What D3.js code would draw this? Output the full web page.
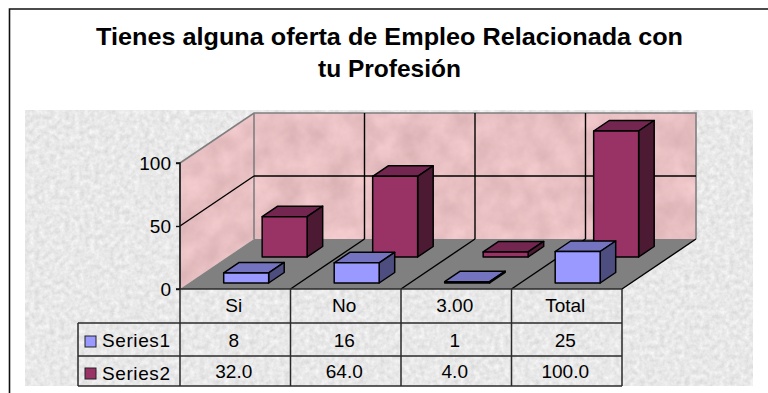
<!DOCTYPE html>
<html><head><meta charset="utf-8">
<script src="https://cdn.jsdelivr.net/npm/d3@7"></script>
<style>html,body{margin:0;padding:0;background:#fff}svg{display:block}text{font-family:"Liberation Sans",Arial,sans-serif;fill:#000}</style>
</head><body><div id="c"></div>
<script>
const titleLines=["Tienes alguna oferta de Empleo Relacionada con","tu Profesión"];
const titleWidths=[587,143];
const categories=["Si","No","3.00","Total"];
const seriesNames=["Series1","Series2"];
const series1=[8,16,1,25];
const series2=[32,64,4,100];
const series1Labels=["8","16","1","25"];
const series2Labels=["32.0","64.0","4.0","100.0"];
const yTicks=[0,50,100];

const W=768,H=393;
const svg=d3.select("#c").append("svg").attr("width",W).attr("height",H);
const defs=svg.append("defs");
function tex(id,seed,freq,slope,icept){
  const f=defs.append("filter").attr("id",id).attr("x",0).attr("y",0).attr("width",1).attr("height",1)
    .attr("color-interpolation-filters","sRGB");
  f.append("feTurbulence").attr("type","fractalNoise").attr("baseFrequency",freq).attr("numOctaves",4).attr("seed",seed);
  f.append("feColorMatrix").attr("type","matrix").attr("values",
    `${slope} 0 0 0 ${icept[0]}  ${slope} 0 0 0 ${icept[1]}  ${slope} 0 0 0 ${icept[2]}  0 0 0 0 1`);
}
tex("paper",4,"0.2",0.16,[0.83,0.83,0.83]);
tex("rose",9,"0.04",0.14,[0.84,0.68,0.69]);
const wallClip=defs.append("clipPath").attr("id","wc");

const x0=180,xN=622,yBase=289,plotH=126,dx=74,dy=-50;
const x=d3.scaleBand().domain(categories).range([x0,xN]);
const y=d3.scaleLinear().domain([0,100]).range([0,plotH]);
const depth=d3.scaleLinear().domain([0,1]).range([0,1]);
const P=(px,h,t)=>[px+dx*depth(t),yBase-y(h)+dy*depth(t)];
const poly=pts=>pts.map(p=>p.join(",")).join(" ");

// frame
svg.append("path").attr("d",`M9.5,${H} V9 H${W}`).attr("fill","none").attr("stroke","#111").attr("stroke-width",1.6);
// title
svg.selectAll("text.t").data(titleLines).join("text").attr("class","t")
  .attr("x",389.5).attr("y",(d,i)=>45+i*32).attr("text-anchor","middle")
  .attr("font-size",24).attr("font-weight","bold")
  .attr("textLength",(d,i)=>titleWidths[i]).attr("lengthAdjust","spacingAndGlyphs").text(d=>d);
// chart-area texture
svg.append("rect").attr("x",25).attr("y",110).attr("width",728).attr("height",276).attr("filter","url(#paper)");

// walls
const wallTop=100,tBack=1;
const side=[P(x0,0,0),P(x0,wallTop,0),P(x0,wallTop,tBack),P(x0,0,tBack)];
const back=[P(x0,0,1),P(x0,wallTop,1),P(xN,wallTop,1),P(xN,0,1)];
wallClip.append("polygon").attr("points",poly(side));
wallClip.append("polygon").attr("points",poly(back));
svg.append("rect").attr("x",x0).attr("y",112).attr("width",xN+dx-x0).attr("height",178)
  .attr("filter","url(#rose)").attr("clip-path","url(#wc)");
// floor
svg.append("polygon").attr("points",poly([P(x0,0,0),P(xN,0,0),P(xN,0,1),P(x0,0,1)])).attr("fill","#808080");
// wall outline
svg.append("path").attr("d",`M${P(x0,0,0)} L${P(x0,100,0)} L${P(x0,100,1)} L${P(xN,100,1)} L${P(xN,0,1)} M${P(x0,100,1)} L${P(x0,0,1)}`)
  .attr("fill","none").attr("stroke","#7f7f7f").attr("stroke-width",1.6);
// gridlines
const gl=svg.append("g").attr("fill","none").attr("stroke","#000").attr("stroke-width",1.4);
const gridLine=(a,b)=>gl.append("line").attr("x1",a[0]).attr("y1",a[1]).attr("x2",b[0]).attr("y2",b[1]);
yTicks.filter(v=>v===50).forEach(v=>{gridLine(P(x0,v,0),P(x0,v,1));gridLine(P(x0,v,1),P(xN,v,1));});
categories.forEach((c,i)=>{ if(i>0){const px=x(c);gridLine(P(px,0,0),P(px,0,1));gridLine(P(px,0,1),P(px,100,1));}});
svg.append("path").attr("d",`M${P(xN,0,0)} L${P(xN,0,1)}`).attr("fill","none").attr("stroke","#000").attr("stroke-width",1.4);

// bars
const barW=x.bandwidth()*0.407,barOff=x.bandwidth()*0.315,barD=0.21;
function bars(vals,t0,fr,tp,sd,sw){
  const g=svg.append("g").attr("stroke","#000").attr("stroke-width",sw).attr("stroke-linejoin","round");
  categories.forEach((c,i)=>{
    const a=x(c)+barOff,b=a+barW,v=vals[i],t1=t0+barD;
    g.append("polygon").attr("points",poly([P(a,v,t0),P(b,v,t0),P(b,v,t1),P(a,v,t1)])).attr("fill",tp);
    g.append("polygon").attr("points",poly([P(b,0,t0),P(b,v,t0),P(b,v,t1),P(b,0,t1)])).attr("fill",sd);
    g.append("polygon").attr("points",poly([P(a,0,t0),P(a,v,t0),P(b,v,t0),P(b,0,t0)])).attr("fill",fr);
  });
}
bars(series2,0.64,"#993366","#732650","#4d1a33",1.5);
bars(series1,0.12,"#9999ff","#7373bf","#4d4d80",1.5);

// y axis
const axisScale=d3.scaleLinear().domain([0,100]).range([yBase,yBase-plotH]);
const ax=svg.append("g").attr("transform",`translate(${x0},0)`)
  .call(d3.axisLeft(axisScale).tickValues(yTicks).tickSize(4).tickPadding(5).tickFormat(d3.format("d")));
ax.selectAll("path,line").attr("stroke","#111").attr("stroke-width",1.4);
ax.select("path").attr("d",`M-4,${yBase}H0V${yBase-plotH}H-4`);
ax.selectAll("text").attr("font-size",19).style("font-family",'"Liberation Sans",Arial,sans-serif').attr("fill","#000");

// data table
const rowY=[289,323,356,386],xL=78;
const colX=categories.map(c=>x(c)).concat([xN]);
const tb=svg.append("g").attr("stroke","#2a2a2a").attr("stroke-width",1.5).attr("fill","none");
const tl=(a,b,c,d)=>tb.append("line").attr("x1",a).attr("y1",b).attr("x2",c).attr("y2",d);
tl(x0,rowY[0],xN,rowY[0]);
tl(xL,rowY[1],xN,rowY[1]);tl(xL,rowY[2],xN,rowY[2]);tl(xL,rowY[3],xN,rowY[3]);
tl(xL,rowY[1],xL,rowY[3]);
colX.forEach(cx=>tl(cx,rowY[0],cx,rowY[3]));
const cellText=(s,cx,yy,anchor)=>svg.append("text").attr("x",cx).attr("y",yy).attr("text-anchor",anchor||"middle").attr("font-size",19).text(s);
categories.forEach((c,i)=>{
  const cx=x(c)+x.bandwidth()/2-1.5;
  cellText(c,cx,312);
  cellText(series1Labels[i],cx,347);
  cellText(series2Labels[i],cx,378);
});
["#9999ff","#993366"].forEach((col,i)=>{
  svg.append("rect").attr("x",85).attr("y",i===0?336:368).attr("width",11).attr("height",11).attr("fill",col).attr("stroke","#222");
  cellText(seriesNames[i],102,i===0?347:380,"start").attr("textLength",68).attr("lengthAdjust","spacing");
});
</script></body></html>
